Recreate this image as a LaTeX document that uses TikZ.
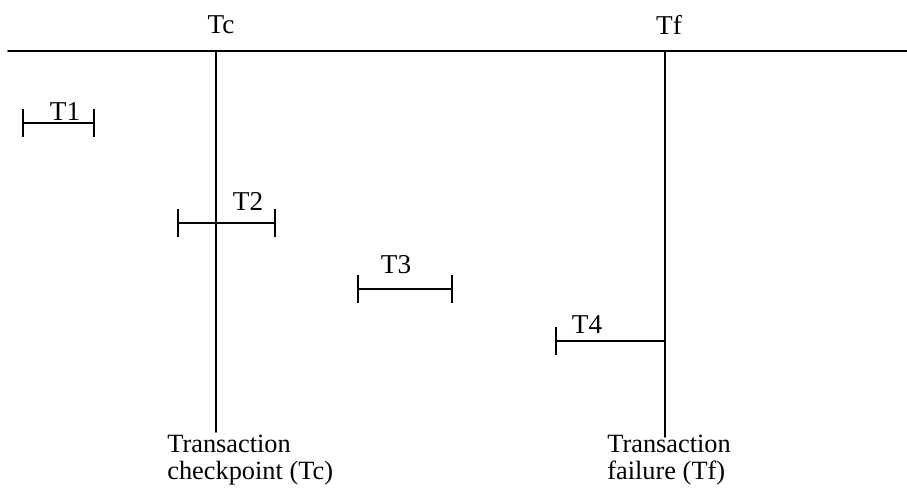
\documentclass[tikz,border=0pt]{standalone}
\usepackage{fontspec}
\setmainfont{Liberation Serif}
\usetikzlibrary{arrows.meta}

\begin{document}
\begin{tikzpicture}[line cap=round,line join=round,x=0.02cm,y=-0.02cm,
  axis/.style={line width=1.1pt},
  txn/.style={line width=1.1pt,{Bar[width=16pt,line width=1.1pt]}-{Bar[width=16pt,line width=1.1pt]}},
  txnopen/.style={line width=1.1pt,{Bar[width=16pt,line width=1.1pt]}-},
  lbl/.style={inner sep=0pt,font=\fontsize{15.5}{15.5}\selectfont},
  note/.style={inner sep=0pt,align=left,anchor=north west,font=\fontsize{15}{15}\selectfont}]
\useasboundingbox (0,0) rectangle (907,489);
% time axis and the two instants
\coordinate (axisL) at (8,51);
\coordinate (axisR) at (907,51);
\coordinate (TcTop) at (216,51);
\coordinate (TcBot) at (216,432);
\coordinate (TfTop) at (665,51);
\coordinate (TfBot) at (665,437);
\draw [axis] (axisL)-- (axisR);
\draw [axis] (TcTop)-- (TcBot);
\draw [axis] (TfTop)-- (TfBot);
\node[lbl] (Tc) at (221,25) {Tc};
\node[lbl] (Tf) at (669,25) {Tf};
% transactions
\coordinate (T1a) at (22,123);
\coordinate (T1b) at (95,123);
\coordinate (T2a) at (177,223);
\coordinate (T2b) at (276,223);
\coordinate (T3a) at (357,289);
\coordinate (T3b) at (453,289);
\coordinate (T4a) at (555,341);
\coordinate (T4b) at (665,341);
\draw [txn] (T1a)-- (T1b);
\draw [txn] (T2a)-- (T2b);
\draw [txn] (T3a)-- (T3b);
\draw [txnopen] (T4a)-- (T4b);
\node[lbl] (T1) at (65,112) {T1};
\node[lbl] (T2) at (248,201) {T2};
\node[lbl] (T3) at (396,265) {T3};
\node[lbl] (T4) at (587,325) {T4};
% captions
\node[note] (capTc) at (167,435) {Transaction\\checkpoint (Tc)};
\node[note] (capTf) at (607,435) {Transaction\\failure (Tf)};
\end{tikzpicture}
\end{document}
